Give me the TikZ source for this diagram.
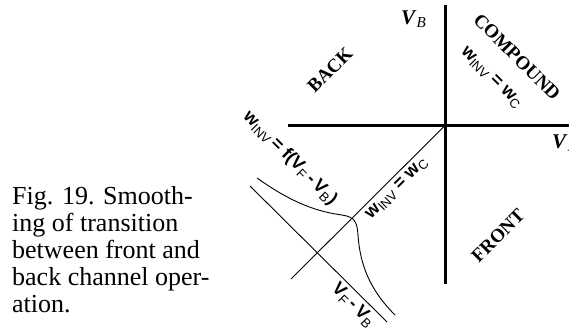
\documentclass[tikz,border=0pt]{standalone}
\usepackage{fontspec}
\setmainfont{Liberation Serif}
\setsansfont{Liberation Sans}
\newcommand{\lowsub}[1]{\raisebox{-0.35ex}{\scalebox{0.72}{#1}}}

\begin{document}
\begin{tikzpicture}[
    x=1pt, y=-1pt,
    axis/.style={line width=3pt},
    thinline/.style={line width=0.9pt},
    region/.style={font=\fontsize{19}{19}\selectfont\bfseries, inner sep=0pt},
    eqlabel/.style={font=\sffamily\fontsize{18}{18}\selectfont, inner sep=0pt},
    axislabel/.style={font=\fontsize{21}{21}\selectfont, inner sep=0pt},
    caption/.style={font=\fontsize{26}{27}\selectfont, align=left, inner sep=0pt}
]
\useasboundingbox (0,0) rectangle (569,328);

% axes
\coordinate (origin) at (445,125.5);
\coordinate (west) at (288,125.5);
\coordinate (east) at (569,125.5);
\coordinate (north) at (445,5);
\coordinate (south) at (445,284);
\draw[axis] (west) -- (east);
\draw[axis] (north) -- (south);

% lines and curve
\coordinate (diagend) at (291,279);
\coordinate (diffstart) at (250,186);
\coordinate (diffend) at (387,322);
\coordinate (smoothstart) at (257,178);
\coordinate (smoothend) at (395,315);
\draw[thinline] (origin) -- (diagend);
\draw[thinline] (diffstart) -- (diffend);
\draw[thinline] (smoothstart) .. controls (295,205) and (320,212) .. (342,215)
    .. controls (355,217) and (357,222) .. (358,235)
    .. controls (360,265) and (370,290) .. (smoothend);

% axis labels
\node[axislabel, anchor=west] (vb) at (401,19) {\textbf{\textit{V}}\lowsub{\textit{B}}};
\node[axislabel, anchor=west] (vf) at (552,143) {\textbf{\textit{V}}\lowsub{\textit{F}}};

% regions
\node[region, rotate=-45] (compound) at (517,57) {COMPOUND};
\node[region, rotate=45] (back) at (330,70) {BACK};
\node[region, rotate=45] (front) at (498,236) {FRONT};

% equations
\node[eqlabel, rotate=-45] (eqtop) at (491,78) {\textbf{w}\lowsub{INV} \textbf{=} \textbf{w}\lowsub{C}};
\node[eqlabel, rotate=45] (eqdiag) at (397,189) {\textbf{w}\lowsub{INV} \textbf{=} \textbf{w}\lowsub{C}};
\node[eqlabel, rotate=-45] (eqsmooth) at (290,158) {\textbf{w}\lowsub{INV}\,\textbf{= f(V}\lowsub{F}\,\textbf{-\,V}\lowsub{B}\textbf{)}};
\node[eqlabel, rotate=-45] (difflabel) at (353,305) {\textbf{V}\lowsub{F}\,\textbf{-\,V}\lowsub{B}};

% caption
\node[caption, anchor=north west] (figcap) at (12,186) {Fig. 19. Smooth-\\ing of transition\\between front and\\back channel oper-\\ation.};

\end{tikzpicture}
\end{document}
